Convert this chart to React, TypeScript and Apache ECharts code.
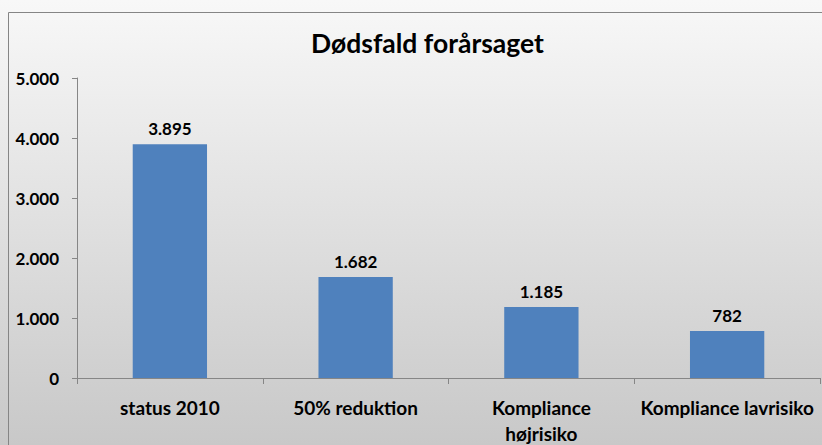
import React, { useEffect, useRef } from "react";
import * as echarts from "echarts";

const title = "Dødsfald forårsaget";
const categories = ["status 2010", "50% reduktion", "Kompliance\nhøjrisiko", "Kompliance lavrisiko"];
const values = [3895, 1682, 1185, 782];
const yMin = 0;
const yMax = 5000;
const yInterval = 1000;

const fmt = (v: number) => String(Math.round(v)).replace(/\B(?=(\d{3})+(?!\d))/g, ".");

const FONT = "Lato, 'Open Sans', sans-serif";

export default function App() {
  const ref = useRef<HTMLDivElement>(null);
  useEffect(() => {
    if (!ref.current) return;
    const chart = echarts.init(ref.current, null, { renderer: "svg" });
    chart.setOption({
      animation: false,
      backgroundColor: new echarts.graphic.LinearGradient(0, 0, 0, 1, [
        { offset: 0, color: "#f8f8f8" },
        { offset: 1, color: "#c8c8c8" },
      ]),
      title: {
        text: title,
        left: 306,
        top: 24,
        textStyle: { fontFamily: FONT, fontWeight: "bold", fontSize: 26.5, color: "#000" },
      },
      graphic: [
        {
          type: "rect",
          shape: { x: 8.5, y: 12.5, width: 900, height: 600 },
          style: { fill: "none", stroke: "#858585", lineWidth: 1 },
          silent: true,
        },
      ],
      grid: { left: 77, right: 2, top: 78, bottom: 67, containLabel: false, outerBoundsMode: "none" },
      xAxis: {
        type: "category",
        data: categories,
        axisLine: { show: true, lineStyle: { color: "#868686", width: 1 } },
        axisTick: { show: true, length: 6, alignWithLabel: false, lineStyle: { color: "#868686" } },
        axisLabel: {
          interval: 0,
          margin: 16,
          fontFamily: FONT,
          fontWeight: "bold",
          fontSize: 19,
          lineHeight: 26,
          color: "#000",
        },
      },
      yAxis: {
        type: "value",
        min: yMin,
        max: yMax,
        interval: yInterval,
        splitLine: { show: false },
        axisLine: { show: true, lineStyle: { color: "#868686", width: 1 } },
        axisTick: { show: true, length: 5, lineStyle: { color: "#868686" } },
        axisLabel: {
          margin: 18,
          formatter: (v: number) => fmt(v),
          fontFamily: FONT,
          fontWeight: "bold",
          fontSize: 17,
          color: "#000",
        },
      },
      series: [
        {
          type: "bar",
          data: values,
          barWidth: "40%",
          itemStyle: { color: "#4f81bd" },
          label: {
            show: true,
            position: "top",
            distance: 7,
            formatter: (p: any) => fmt(p.value),
            fontFamily: FONT,
            fontWeight: "bold",
            fontSize: 17,
            color: "#000",
          },
        },
      ],
    });
    return () => chart.dispose();
  }, []);
  return (
    <div
      ref={ref}
      style={{ position: "fixed", left: 0, top: 0, width: 822, height: 445 }}
    />
  );
}
